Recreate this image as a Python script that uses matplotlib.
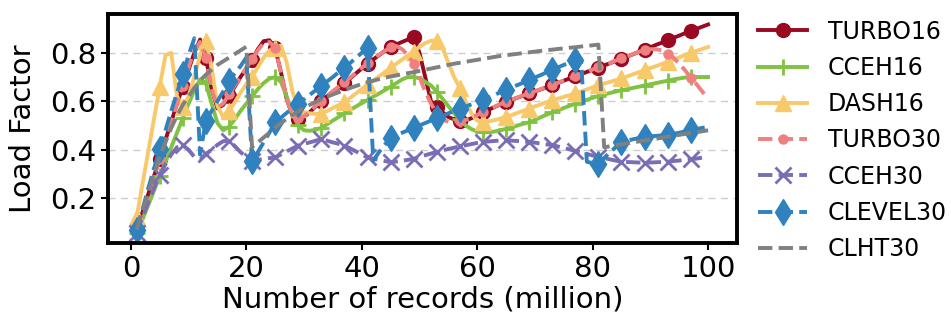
import matplotlib
matplotlib.use("Agg")
import matplotlib.pyplot as plt

records = list(range(1, 101))

turbo16 = [0.07, 0.14, 0.215, 0.29, 0.36, 0.44, 0.515, 0.59, 0.66, 0.73,
           0.80, 0.855, 0.78, 0.65, 0.57, 0.585, 0.62, 0.66, 0.70, 0.735,
           0.77, 0.815, 0.848, 0.852, 0.82, 0.72, 0.61, 0.54, 0.525, 0.535,
           0.555, 0.578, 0.60, 0.62, 0.64, 0.657, 0.675, 0.695, 0.715, 0.735,
           0.755, 0.773, 0.79, 0.808, 0.825, 0.835, 0.845, 0.855, 0.865, 0.80,
           0.70, 0.60, 0.575, 0.555, 0.535, 0.525, 0.52, 0.52, 0.53, 0.542,
           0.555, 0.565, 0.576, 0.587, 0.597, 0.606, 0.615, 0.623, 0.632, 0.64,
           0.649, 0.657, 0.666, 0.675, 0.685, 0.694, 0.703, 0.712, 0.721, 0.73,
           0.739, 0.748, 0.757, 0.767, 0.776, 0.785, 0.794, 0.804, 0.813, 0.823,
           0.833, 0.842, 0.852, 0.862, 0.871, 0.881, 0.89, 0.899, 0.908, 0.917]

cceh16 = [0.055, 0.11, 0.17, 0.23, 0.29, 0.35, 0.41, 0.47, 0.53, 0.59,
          0.645, 0.69, 0.675, 0.59, 0.51, 0.48, 0.495, 0.525, 0.56, 0.59,
          0.62, 0.65, 0.675, 0.693, 0.70, 0.68, 0.62, 0.55, 0.50, 0.48,
          0.478, 0.482, 0.49, 0.505, 0.52, 0.535, 0.55, 0.564, 0.578, 0.592,
          0.605, 0.619, 0.632, 0.646, 0.66, 0.675, 0.69, 0.70, 0.70, 0.695,
          0.68, 0.665, 0.64, 0.61, 0.58, 0.55, 0.525, 0.50, 0.485, 0.475,
          0.472, 0.472, 0.475, 0.48, 0.486, 0.492, 0.50, 0.507, 0.513, 0.523,
          0.534, 0.544, 0.554, 0.563, 0.572, 0.581, 0.59, 0.598, 0.606, 0.614,
          0.622, 0.628, 0.634, 0.64, 0.645, 0.65, 0.655, 0.66, 0.665, 0.67,
          0.675, 0.68, 0.685, 0.69, 0.694, 0.698, 0.70, 0.70, 0.70, 0.70]

dash16 = [0.12, 0.255, 0.39, 0.525, 0.66, 0.79, 0.80, 0.62, 0.575, 0.62,
          0.70, 0.79, 0.85, 0.74, 0.58, 0.535, 0.56, 0.595, 0.635, 0.67,
          0.70, 0.74, 0.78, 0.81, 0.82, 0.83, 0.76, 0.64, 0.57, 0.555,
          0.55, 0.548, 0.548, 0.56, 0.572, 0.584, 0.596, 0.614, 0.632, 0.65,
          0.668, 0.685, 0.703, 0.72, 0.738, 0.755, 0.772, 0.79, 0.805, 0.825,
          0.84, 0.85, 0.85, 0.82, 0.76, 0.70, 0.655, 0.60, 0.55, 0.52,
          0.515, 0.517, 0.522, 0.528, 0.535, 0.543, 0.552, 0.561, 0.57, 0.579,
          0.587, 0.596, 0.604, 0.611, 0.618, 0.625, 0.632, 0.64, 0.649, 0.657,
          0.666, 0.673, 0.68, 0.687, 0.694, 0.703, 0.711, 0.72, 0.728, 0.737,
          0.745, 0.754, 0.762, 0.772, 0.781, 0.791, 0.80, 0.808, 0.816, 0.824]

turbo30 = [0.07, 0.14, 0.215, 0.29, 0.36, 0.44, 0.515, 0.59, 0.665, 0.74,
           0.81, 0.845, 0.78, 0.65, 0.575, 0.59, 0.628, 0.665, 0.70, 0.738,
           0.773, 0.81, 0.84, 0.845, 0.82, 0.72, 0.61, 0.545, 0.53, 0.538,
           0.558, 0.58, 0.602, 0.622, 0.642, 0.66, 0.678, 0.698, 0.718, 0.738,
           0.757, 0.775, 0.792, 0.808, 0.822, 0.828, 0.815, 0.79, 0.755, 0.70,
           0.64, 0.59, 0.55, 0.525, 0.515, 0.515, 0.52, 0.522, 0.532, 0.543,
           0.556, 0.566, 0.577, 0.588, 0.598, 0.607, 0.616, 0.624, 0.633, 0.641,
           0.65, 0.658, 0.667, 0.676, 0.686, 0.695, 0.704, 0.713, 0.722, 0.731,
           0.74, 0.749, 0.758, 0.768, 0.777, 0.786, 0.795, 0.804, 0.812, 0.815,
           0.815, 0.81, 0.797, 0.78, 0.755, 0.728, 0.698, 0.67, 0.64, 0.612]

cceh30 = [0.055, 0.12, 0.18, 0.24, 0.295, 0.34, 0.38, 0.41, 0.418, 0.40,
          0.37, 0.36, 0.382, 0.40, 0.42, 0.435, 0.437, 0.415, 0.39, 0.37,
          0.355, 0.358, 0.361, 0.365, 0.368, 0.38, 0.393, 0.405, 0.417, 0.424,
          0.43, 0.437, 0.444, 0.437, 0.43, 0.424, 0.417, 0.405, 0.393, 0.38,
          0.368, 0.363, 0.358, 0.353, 0.348, 0.351, 0.354, 0.358, 0.362, 0.37,
          0.377, 0.384, 0.391, 0.397, 0.403, 0.408, 0.414, 0.418, 0.423, 0.428,
          0.432, 0.434, 0.436, 0.438, 0.439, 0.437, 0.436, 0.434, 0.432, 0.429,
          0.425, 0.422, 0.419, 0.413, 0.407, 0.401, 0.395, 0.389, 0.382, 0.376,
          0.37, 0.365, 0.36, 0.355, 0.35, 0.349, 0.348, 0.347, 0.346, 0.347,
          0.348, 0.349, 0.35, 0.353, 0.355, 0.358, 0.36, 0.363, 0.367, 0.37]

clevel30 = [0.07, 0.15, 0.24, 0.32, 0.403, 0.48, 0.56, 0.635, 0.711, 0.79,
            0.86, 0.38, 0.52, 0.56, 0.60, 0.64, 0.684, 0.715, 0.745, 0.78,
            0.354, 0.39, 0.43, 0.47, 0.513, 0.532, 0.552, 0.571, 0.59, 0.608,
            0.627, 0.645, 0.663, 0.682, 0.70, 0.72, 0.738, 0.758, 0.779, 0.80,
            0.82, 0.355, 0.39, 0.42, 0.45, 0.46, 0.47, 0.48, 0.49, 0.50,
            0.51, 0.52, 0.529, 0.539, 0.55, 0.56, 0.57, 0.578, 0.587, 0.595,
            0.604, 0.615, 0.626, 0.637, 0.648, 0.658, 0.667, 0.677, 0.687, 0.698,
            0.708, 0.719, 0.73, 0.74, 0.75, 0.759, 0.769, 0.775, 0.35, 0.345,
            0.34, 0.365, 0.39, 0.41, 0.432, 0.437, 0.443, 0.448, 0.453, 0.455,
            0.457, 0.459, 0.46, 0.465, 0.47, 0.475, 0.48, 0.485, 0.49, 0.494]

clht30 = [0.07, 0.15, 0.22, 0.30, 0.37, 0.43, 0.49, 0.54, 0.585, 0.62,
          0.655, 0.685, 0.71, 0.73, 0.75, 0.765, 0.78, 0.795, 0.81, 0.825,
          0.41, 0.43, 0.45, 0.47, 0.49, 0.51, 0.527, 0.543, 0.558, 0.572,
          0.585, 0.597, 0.608, 0.618, 0.628, 0.637, 0.646, 0.655, 0.663, 0.671,
          0.679, 0.685, 0.691, 0.697, 0.702, 0.707, 0.712, 0.716, 0.72, 0.725,
          0.73, 0.735, 0.74, 0.745, 0.75, 0.755, 0.759, 0.763, 0.767, 0.771,
          0.775, 0.779, 0.783, 0.787, 0.79, 0.793, 0.796, 0.799, 0.802, 0.805,
          0.808, 0.811, 0.813, 0.816, 0.818, 0.821, 0.823, 0.826, 0.829, 0.831,
          0.834, 0.41, 0.414, 0.418, 0.422, 0.426, 0.43, 0.434, 0.438, 0.441,
          0.445, 0.449, 0.453, 0.457, 0.461, 0.465, 0.469, 0.472, 0.476, 0.48]


def make_plot(fname='out.png'):
    plt.rcParams['font.size'] = 21
    fig = plt.figure(figsize=(9.51, 3.2), dpi=100)
    ax = fig.add_axes([0.1136, 0.241, 0.661, 0.715])

    lw = 2.8
    ax.plot(records, turbo16, color='#990a22', lw=lw, marker='o', ms=10,
            markevery=4, label='TURBO16')
    ax.plot(records, cceh16, color='#80c242', lw=lw, marker='+', ms=12,
            mew=2, markevery=4, label='CCEH16')
    ax.plot(records, dash16, color='#f7c96b', lw=lw, marker='^', ms=12,
            markevery=4, label='DASH16')
    ax.plot(records, turbo30, color='#f08080', lw=lw, ls='--', marker='o',
            ms=6.5, markevery=4, label='TURBO30')
    ax.plot(records, cceh30, color='#7b6db5', lw=lw, ls='--', marker='x',
            ms=11, mew=2, markevery=4, label='CCEH30')
    ax.plot(records, clevel30, color='#2f82be', lw=lw, ls='--', marker='d',
            ms=13, markevery=4, label='CLEVEL30')
    ax.plot(records, clht30, color='#808080', lw=lw, ls='--', label='CLHT30')

    ax.set_xlim(-3.95, 104.95)
    ax.set_ylim(0.015, 0.96)
    ax.set_xticks([0, 20, 40, 60, 80, 100])
    ax.set_yticks([0.2, 0.4, 0.6, 0.8])
    ax.set_xlabel('Number of records (million)', labelpad=2)
    ax.set_ylabel('Load Factor', labelpad=9)
    ax.yaxis.grid(True, ls=(0, (5, 4)), color='#cccccc', lw=1)
    ax.set_axisbelow(True)
    for sp in ax.spines.values():
        sp.set_linewidth(2.8)
    ax.tick_params(width=1.5, length=5)

    ax.legend(loc='center left', bbox_to_anchor=(1.0, 0.448), frameon=False,
              handlelength=2.1, handletextpad=0.85, labelspacing=0.52,
              fontsize=17)
    fig.savefig(fname)


if __name__ == "__main__":
    make_plot()
